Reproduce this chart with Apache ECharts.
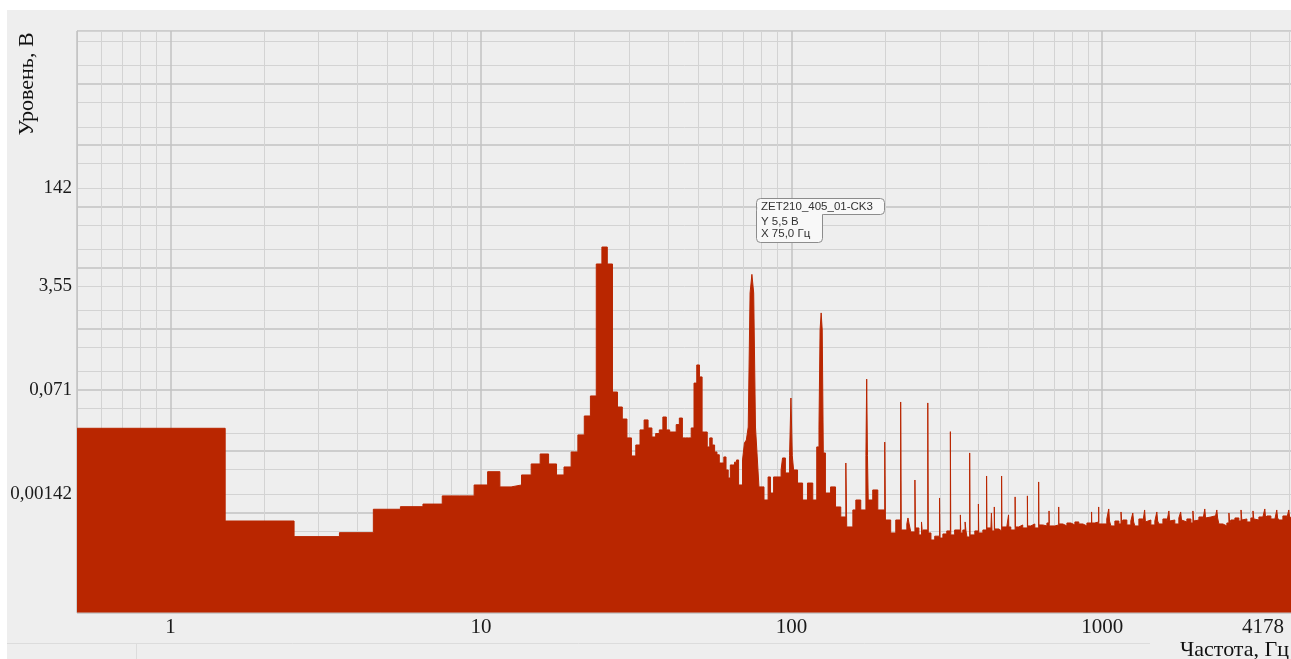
<!DOCTYPE html>
<html><head><meta charset="utf-8">
<script src="https://cdn.jsdelivr.net/npm/echarts@6/dist/echarts.min.js"></script>
<style>html,body{margin:0;padding:0;background:#fff}#c{width:1291px;height:659px}</style>
</head><body><div id="c"></div>
<script>
// ---- DATA ----
// 1 Hz bins from 1 to 79 Hz: left edge of each bin (Hz) and level (V)
const lowStartHz = [0.5,1.5,2.5,3.5,4.5,5.5,6.5,7.5,8.5,9.5,10.5,11.5,12.5,13.5,14.5,15.5,16.5,17.5,18.5,19.5,
  20.5,21.5,22.5,23.5,24.5,25.5,26.5,27.5,28.5,29.5,30.5,31.5,32.5,33.5,34.5,35.5,36.5,37.5,38.5,39.5,
  40.5,41.5,42.5,43.5,44.5,45.5,46.5,47.5,48.5,49.5,50.5,51.5,52.5,53.5,54.5,55.5,56.5,57.5,58.5,59.5,
  60.5,61.5,62.5,63.5,64.5,65.5,66.5,67.5,68.5,69.5,70.5,71.5,72.5,73.5,74.5,75.5,76.5,77.5,78.5];
const lowLevelV = [0.0168,0.000513,0.000285,0.000331,0.000798,0.00088,0.00097,0.00132,0.00132,0.00199,
  0.00328,0.00185,0.00199,0.0029,0.00439,0.00639,0.00439,0.0029,0.00392,0.00689,
  0.0131,0.0267,0.0567,8.13,15.4,8.13,0.0658,0.0374,0.0238,0.0117,
  0.00593,0.00896,0.0158,0.023,0.017,0.0121,0.0138,0.0158,0.0257,0.0158,
  0.0146,0.0146,0.0193,0.0247,0.0117,0.0117,0.0117,0.017,0.092,0.182,
  0.116,0.0146,0.0146,0.00833,0.0117,0.00896,0.00689,0.0062,0.00455,0.00455,
  0.00571,0.0035,0.00259,0.00423,0.00423,0.0047,0.0051,0.00199,0.00199,0.0051,
  0.00967,0.0108,0.0176,2.73,5.5,2.73,0.0176,0.00571,0.00185];
// 80 Hz .. 1 kHz: step start (Hz) and level (V)
const midStartHz = [81.5,84,85.5,87.5,92.5,93.5,95.5,98.5,99.5,100.5,101.5,104.5,108.5,112.5,117,120.5,122.5,123.5,124.5,125.5,
  126.5,128.5,133.5,138.5,144,149.5,150.5,157.5,161,167,173.5,174.5,175.5,176.5,182.5,189.5,199.5,200.5,208.5,216.5,
  224.5,225.5,235,237,239,242,249.5,250.5,257,262,264,265,274.5,275.5,281,289,299.5,300.5,307,316,
  324.5,325.5,335,349.5,350.5,356,362,364,367,374.5,375.5,389,399.5,400.5,413,424.5,425.5,438,440,442,
  449.5,450.5,465,474.5,475.5,493,499.5,500.5,508,524.5,525.5,539,555,574.5,575.5,589,607,624.5,625.5,644,
  664,674.5,675.5,704,724.5,725.5,747,770,793,817,841,867,893,924.5,925.5,947,974.5,975.5];
const midLevelV = [0.00113,0.00269,0.00147,0.00269,0.0035,0.0055,0.00313,0.006,0.0525,0.006,0.0035,0.00214,0.00113,0.00214,0.00113,0.00833,0.0176,0.678,1.29,0.678,
  0.00664,0.00147,0.00185,0.00087,0.000597,0.00455,0.00041,0.000777,0.00113,0.000777,0.006,0.107,0.006,0.00113,0.00165,0.000777,0.01,0.000533,0.000327,0.000533,
  0.0452,0.000366,0.000459,0.000575,0.000459,0.00034,0.0024,0.000395,0.000304,0.000495,0.000304,0.000366,0.0436,0.000327,0.000251,0.00029,0.00122,0.00027,0.000315,0.000353,
  0.0148,0.000304,0.000366,0.000645,0.000327,0.000366,0.000495,0.000366,0.000281,0.00664,0.000304,0.000353,0.000973,0.000327,0.000366,0.00279,0.000395,0.000353,0.000694,0.000353,
  0.00087,0.00038,0.000353,0.00279,0.00041,0.000442,0.000645,0.00041,0.000366,0.00127,0.00041,0.000442,0.000395,0.00132,0.000426,0.000459,0.000395,0.00223,0.000442,0.000426,
  0.000476,0.000749,0.000426,0.000442,0.00087,0.000459,0.000426,0.000476,0.000442,0.000495,0.000459,0.000426,0.000476,0.000721,0.000476,0.000495,0.00087,0.000459];
// 1 kHz .. 4178 Hz: step start (Hz) and level (V)
const highStartHz = [1005,1035,1050,1056,1067,1099,1132,1150,1157,1166,1201,1237,1255,1263,1274,1313,1352,1370,1378,1393,
  1435,1478,1500,1509,1523,1569,1616,1640,1650,1665,1714,1766,1790,1801,1820,1874,1931,1960,1972,1989,
  2049,2111,2140,2153,2174,2240,2307,2340,2354,2376,2448,2521,2560,2575,2597,2676,2756,2800,2817,2839,
  2924,3012,3060,3078,3103,3197,3293,3340,3360,3392,3494,3600,3650,3672,3708,3819,3934,3990,4014,4053];
const highLevelV = [0.000459,0.000554,0.000807,0.000513,0.000426,0.000513,0.000459,0.000721,0.000476,0.000533,0.000442,0.000513,0.000694,0.000495,0.000426,0.000554,0.000476,0.000777,0.000495,0.000533,
  0.000442,0.000513,0.000721,0.000513,0.000459,0.000554,0.000495,0.000749,0.000513,0.000533,0.000459,0.000575,0.000721,0.000533,0.000495,0.000554,0.000476,0.000749,0.000513,0.000533,
  0.000597,0.000533,0.000807,0.000575,0.000597,0.00062,0.000554,0.000777,0.000575,0.000459,0.000426,0.000476,0.000694,0.000459,0.000533,0.000575,0.000513,0.000777,0.000533,0.000554,
  0.000495,0.000575,0.000749,0.000554,0.000533,0.000597,0.000554,0.000807,0.000575,0.00062,0.000554,0.000597,0.000777,0.000575,0.000533,0.00062,0.000575,0.000777,0.000597,0.000554];
const lastFreqHz = 4178;

const xTickValues = [1, 10, 100, 1000, 4178];
const xTickLabels = ['1', '10', '100', '1000', '4178'];
const yTickValues = [0.00142, 0.071, 3.55, 142];
const yTickLabels = ['0,00142', '0,071', '3,55', '142'];
const cursorText = ['ZET210_405_01-CK3', 'Y 5,5 В', 'X 75,0 Гц'];
const xTitle = 'Частота, Гц';
const yTitle = 'Уровень, В';

// ---- BUILD ----
const startHz = lowStartHz.concat(midStartHz, highStartHz);
const levelV = lowLevelV.concat(midLevelV, highLevelV);
const points = startHz.map((f, i) => [f, levelV[i]]);
points.push([lastFreqHz, levelV[levelV.length - 1]]);

const X_MIN = 0.5, X_MAX = 4178;
const Y_MIN = 1.64e-5, Y_MAX = 5.22e4;
const Y_GRID_REF = 0.071;          // horizontal grid decades are 0.071·10^k
const RED = '#b92600';
const SERIF = "'Liberation Serif', 'DejaVu Serif', serif";

function nearestLabel(vals, labs, v) {
  let best = 0;
  for (let i = 1; i < vals.length; i++) if (Math.abs(Math.log(vals[i] / v)) < Math.abs(Math.log(vals[best] / v))) best = i;
  return labs[best];
}

const hidden = { axisLine: { show: false }, axisTick: { show: false }, axisLabel: { show: false } };
const xAxes = [{
  type: 'log', gridIndex: 0, position: 'bottom', min: X_MIN, max: X_MAX, splitNumber: 5,
  axisLine: { show: true, lineStyle: { color: '#c4c4c4' } }, axisTick: { show: false },
  axisLabel: {
    customValues: xTickValues, margin: 4, color: '#1a1a1a', fontFamily: SERIF, fontSize: 21,
    formatter: v => {
      const t = nearestLabel(xTickValues, xTickLabels, v);
      return t === xTickLabels[xTickLabels.length - 1] ? '{e|' + t + '}' : t;
    },
    rich: { e: { fontFamily: SERIF, fontSize: 21, color: '#1a1a1a', padding: [0, 64, 0, 0] } }
  },
  splitLine: { show: true, lineStyle: { color: '#c2c2c2', width: 1.5 } }
}];
for (let m = 2; m <= 9; m++) {
  xAxes.push(Object.assign({
    type: 'log', gridIndex: 0, position: 'bottom', min: X_MIN / m, max: X_MAX / m, splitNumber: 5,
    splitLine: { show: true, lineStyle: { color: '#d3d3d3', width: 1 } }
  }, hidden));
}
const yAxes = [{
  type: 'log', gridIndex: 0, position: 'left', min: Y_MIN, max: Y_MAX, splitNumber: 10,
  axisLine: { show: true, lineStyle: { color: '#c4c4c4' } }, axisTick: { show: false },
  axisLabel: {
    customValues: yTickValues, margin: 5, color: '#1a1a1a', fontFamily: SERIF, fontSize: 19,
    formatter: v => nearestLabel(yTickValues, yTickLabels, v)
  },
  splitLine: { show: false }
}];
[[1, '#c2c2c2', 1.5], [2, '#d3d3d3', 1], [5, '#d3d3d3', 1]].forEach(([m, c, w]) => {
  const s = Y_GRID_REF * m;
  yAxes.push(Object.assign({
    type: 'log', gridIndex: 0, position: 'left', min: Y_MIN / s, max: Y_MAX / s, splitNumber: 10,
    splitLine: { show: true, lineStyle: { color: c, width: w } }
  }, hidden));
});

const BOXF = '#f8f8f8', BOXS = '#8c8c8c', TF = "11.5px 'Liberation Sans', sans-serif";
const chart = echarts.init(document.getElementById('c'), null, { renderer: 'canvas' });
chart.setOption({
  animation: false,
  backgroundColor: '#eeeeee',
  grid: { left: 77, right: -4, top: 31, bottom: 46.5, containLabel: false, outerBoundsMode: 'none' },
  xAxis: xAxes,
  yAxis: yAxes,
  tooltip: { show: false },
  series: [{
    type: 'line', xAxisIndex: 0, yAxisIndex: 0, data: points, step: 'end',
    showSymbol: false, symbol: 'none', silent: true, sampling: null,
    lineStyle: { color: RED, width: 1 },
    areaStyle: { color: RED, opacity: 1, origin: 'start' },
    z: 3
  }],
  graphic: [
    { type: 'rect', silent: true, z: 50, shape: { x: 0, y: 0, width: 1291, height: 10 }, style: { fill: '#ffffff' } },
    { type: 'rect', silent: true, z: 50, shape: { x: 0, y: 0, width: 7, height: 659 }, style: { fill: '#ffffff' } },
    { type: 'line', silent: true, z: 50, shape: { x1: 7, y1: 643.5, x2: 1150, y2: 643.5 }, style: { stroke: '#dcdcdc', lineWidth: 1 } },
    { type: 'line', silent: true, z: 50, shape: { x1: 136.5, y1: 644, x2: 136.5, y2: 659 }, style: { stroke: '#dcdcdc', lineWidth: 1 } },
    { type: 'text', silent: true, z: 50, x: 27, y: 84, rotation: Math.PI / 2,
      style: { text: yTitle, fill: '#111', font: "22px 'Liberation Serif', serif", align: 'center', verticalAlign: 'middle' } },
    { type: 'text', silent: true, z: 50, x: 1289, y: 650,
      style: { text: xTitle, fill: '#111', font: "22px 'Liberation Serif', serif", align: 'right', verticalAlign: 'middle' } },
    { type: 'rect', silent: true, z: 100, shape: { x: 756.5, y: 198.5, width: 128, height: 16, r: 4 }, style: { fill: BOXF, stroke: BOXS, lineWidth: 1 } },
    { type: 'rect', silent: true, z: 101, shape: { x: 756.5, y: 206.5, width: 66, height: 36, r: 4 }, style: { fill: BOXF, stroke: BOXS, lineWidth: 1 } },
    { type: 'rect', silent: true, z: 102, shape: { x: 757.2, y: 204, width: 66.3, height: 10.2 }, style: { fill: BOXF } },
    { type: 'rect', silent: true, z: 102, shape: { x: 757.2, y: 213.8, width: 64.6, height: 2.6 }, style: { fill: BOXF } },
    { type: 'text', silent: true, z: 103, x: 761, y: 207, style: { text: cursorText[0], fill: '#333', font: TF, verticalAlign: 'middle' } },
    { type: 'text', silent: true, z: 103, x: 761, y: 222, style: { text: cursorText[1], fill: '#333', font: TF, verticalAlign: 'middle' } },
    { type: 'text', silent: true, z: 103, x: 761, y: 233.5, style: { text: cursorText[2], fill: '#333', font: TF, verticalAlign: 'middle' } }
  ]
});
</script></body></html>
